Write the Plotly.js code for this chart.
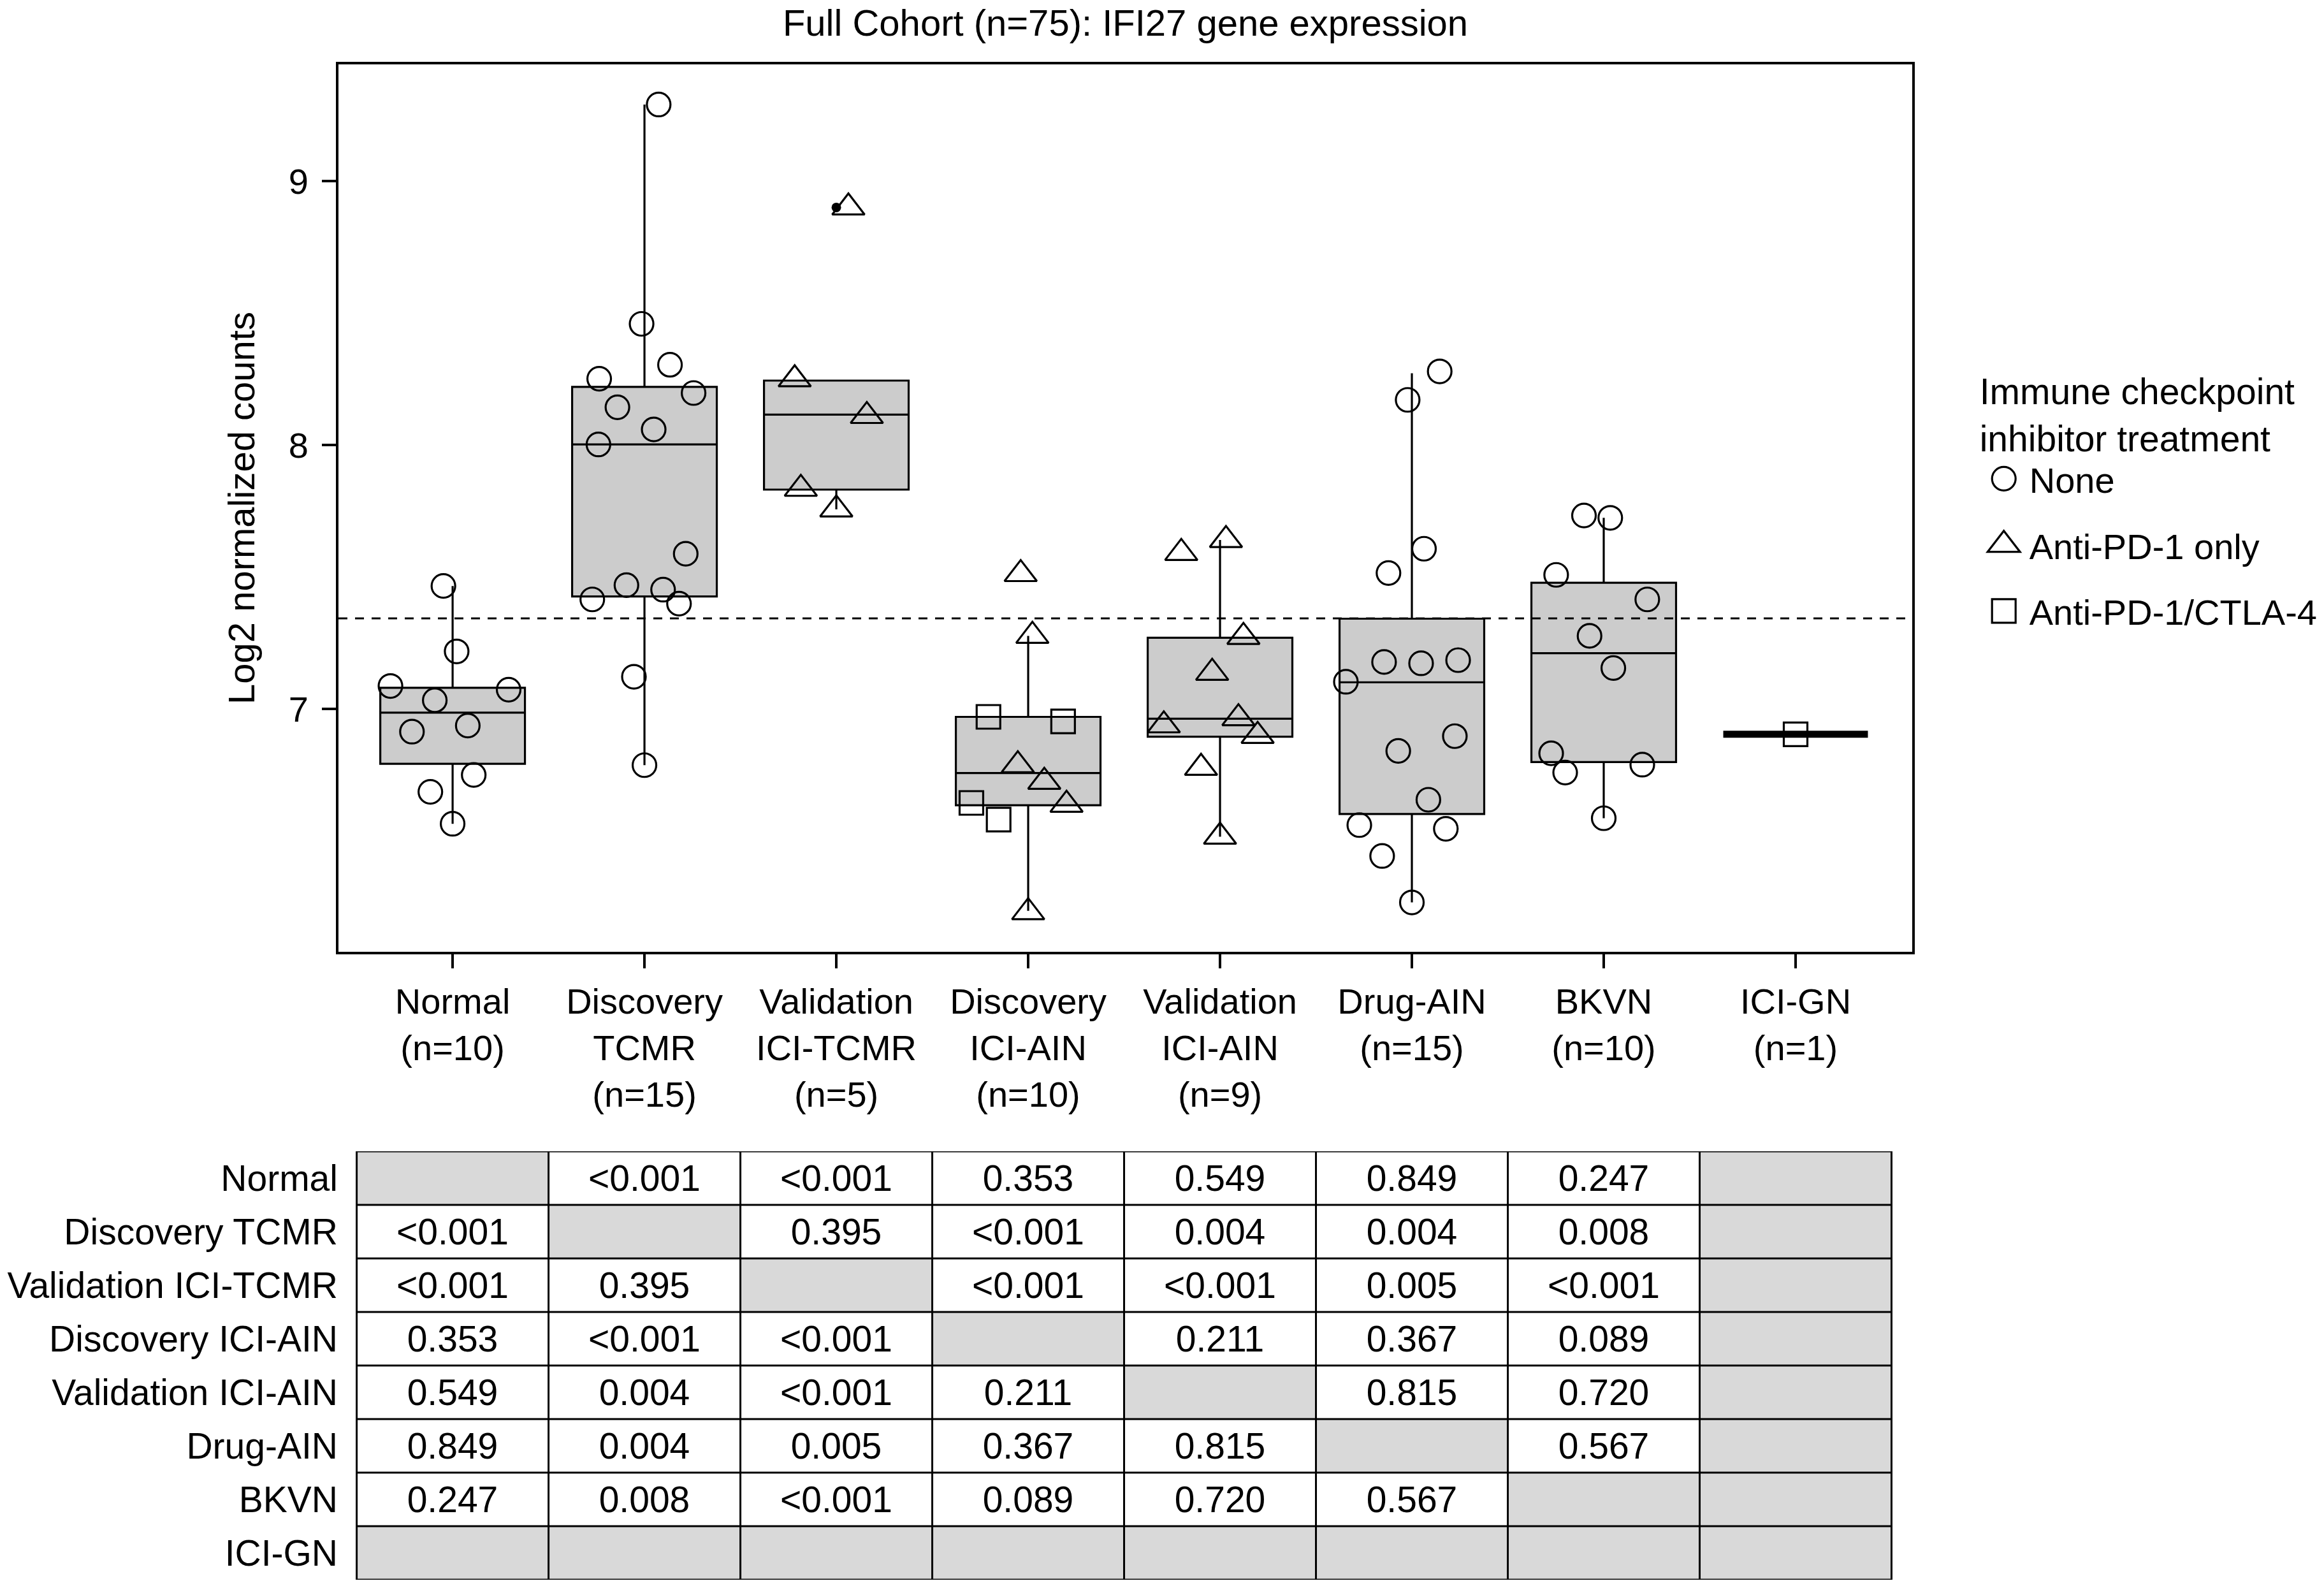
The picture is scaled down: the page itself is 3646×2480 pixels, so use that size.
<!DOCTYPE html>
<html>
<head>
<meta charset="utf-8">
<script src="https://cdn.plot.ly/plotly-3.0.1.min.js"></script>
<style>
  html, body { margin: 0; padding: 0; background: #ffffff; }
  #chart { width: 3646px; height: 2480px; }
</style>
</head>
<body>
<div id="chart"></div>
<script>
// ---------------- DATA ----------------
const categories = ['Normal', 'Discovery TCMR', 'Validation ICI-TCMR', 'Discovery ICI-AIN',
                    'Validation ICI-AIN', 'Drug-AIN', 'BKVN', 'ICI-GN'];
const tickLabels = ['Normal<br>(n=10)', 'Discovery<br>TCMR<br>(n=15)', 'Validation<br>ICI-TCMR<br>(n=5)',
                    'Discovery<br>ICI-AIN<br>(n=10)', 'Validation<br>ICI-AIN<br>(n=9)', 'Drug-AIN<br>(n=15)',
                    'BKVN<br>(n=10)', 'ICI-GN<br>(n=1)'];

// box statistics per category
const boxQ1     = [6.792, 7.426, 7.831, 6.635, 6.895, 6.602, 6.799, 6.904];
const boxMedian = [6.986, 8.002, 8.115, 6.757, 6.963, 7.101, 7.211, 6.904];
const boxQ3     = [7.080, 8.220, 8.244, 6.970, 7.270, 7.342, 7.478, 6.904];
const boxLow    = [6.565, 6.787, 7.756, 6.235, 6.516, 6.267, 6.586, 6.904];
const boxHigh   = [7.466, 9.290, 8.244, 7.277, 7.640, 8.272, 7.724, 6.904];

// outlier (filled dot)
const outlierCat = [2];
const outlierVal = [8.900];

// reference threshold (dashed line)
const thresholdValue = 7.343;

// individual samples: category index, value, horizontal jitter, treatment
const treatments = ['None', 'Anti-PD-1 only', 'Anti-PD-1/CTLA-4'];
const ptCat = [
  0,0,0,0,0,0,0,0,0,0,
  1,1,1,1,1,1,1,1,1,1,1,1,1,1,1,
  2,2,2,2,2,
  3,3,3,3,3,3,3,3,3,3,
  4,4,4,4,4,4,4,4,4,
  5,5,5,5,5,5,5,5,5,5,5,5,5,5,5,
  6,6,6,6,6,6,6,6,6,6,
  7
];
const ptVal = [
  7.466, 7.218, 7.087, 7.073, 7.033, 6.937, 6.914, 6.750, 6.686, 6.565,
  9.290, 8.459, 8.304, 8.251, 8.197, 8.143, 8.059, 8.002, 7.588, 7.469, 7.452, 7.415, 7.399, 7.122, 6.787,
  8.249, 8.110, 7.834, 7.756, 8.900,
  7.511, 7.277, 6.787, 6.724, 6.637, 6.230, 6.970, 6.953, 6.644, 6.581,
  7.591, 7.640, 7.273, 7.137, 6.938, 6.965, 6.898, 6.777, 6.516,
  8.279, 8.171, 7.607, 7.515, 7.178, 7.173, 7.185, 7.103, 6.897, 6.841, 6.656, 6.560, 6.546, 6.443, 6.267,
  7.733, 7.724, 7.508, 7.415, 7.277, 7.155, 6.832, 6.759, 6.789, 6.586,
  6.904
];
const ptJit = [
  -0.048, 0.021, -0.324, 0.292, -0.093, 0.079, -0.212, 0.110, -0.116, 0.000,
  0.074, -0.015, 0.133, -0.236, 0.256, -0.141, 0.048, -0.240, 0.215, -0.094, 0.097, -0.272, 0.180, -0.055, 0.000,
  -0.217, 0.159, -0.185, 0.000, 0.063,
  -0.039, 0.022, -0.054, 0.084, 0.200, 0.000, -0.207, 0.182, -0.296, -0.154,
  -0.202, 0.031, 0.122, -0.041, -0.293, 0.096, 0.196, -0.099, 0.000,
  0.145, -0.022, 0.063, -0.122, -0.145, 0.048, 0.241, -0.344, 0.224, -0.071, 0.086, -0.274, 0.177, -0.155, 0.000,
  -0.103, 0.034, -0.248, 0.227, -0.074, 0.050, -0.274, -0.201, 0.201, 0.000,
  0.000
];
const ptTrt = [
  0,0,0,0,0,0,0,0,0,0,
  0,0,0,0,0,0,0,0,0,0,0,0,0,0,0,
  1,1,1,1,1,
  1,1,1,1,1,1,2,2,2,2,
  1,1,1,1,1,1,1,1,1,
  0,0,0,0,0,0,0,0,0,0,0,0,0,0,0,
  0,0,0,0,0,0,0,0,0,0,
  2
];

// pairwise p-values table (row = category, column = category); '' = shaded cell
const pRowNormal      = ['', '<0.001', '<0.001', '0.353', '0.549', '0.849', '0.247', ''];
const pRowDiscTCMR    = ['<0.001', '', '0.395', '<0.001', '0.004', '0.004', '0.008', ''];
const pRowValTCMR     = ['<0.001', '0.395', '', '<0.001', '<0.001', '0.005', '<0.001', ''];
const pRowDiscAIN     = ['0.353', '<0.001', '<0.001', '', '0.211', '0.367', '0.089', ''];
const pRowValAIN      = ['0.549', '0.004', '<0.001', '0.211', '', '0.815', '0.720', ''];
const pRowDrugAIN     = ['0.849', '0.004', '0.005', '0.367', '0.815', '', '0.567', ''];
const pRowBKVN        = ['0.247', '0.008', '<0.001', '0.089', '0.720', '0.567', '', ''];
const pRowICIGN       = ['', '', '', '', '', '', '', ''];

// ---------------- BUILD ----------------
const FONT = 'Liberation Sans, Arial, Helvetica, sans-serif';
const idx = categories.map((c, i) => i);
const pTable = [pRowNormal, pRowDiscTCMR, pRowValTCMR, pRowDiscAIN, pRowValAIN, pRowDrugAIN, pRowBKVN, pRowICIGN];
const zShade = pTable.map(r => r.map(v => v === '' ? 1 : 0));

const LW = 3.2;
const traces = [];
const nBox = categories.length - 1; // last one (n=1) drawn as a thick line
traces.push({
  type: 'box', x: idx.slice(0, nBox),
  q1: boxQ1.slice(0, nBox), median: boxMedian.slice(0, nBox), q3: boxQ3.slice(0, nBox),
  lowerfence: boxLow.slice(0, nBox), upperfence: boxHigh.slice(0, nBox),
  width: 0.754, whiskerwidth: 0, boxpoints: false,
  fillcolor: '#cccccc', line: { color: '#000000', width: LW },
  showlegend: false, hoverinfo: 'skip', xaxis: 'x', yaxis: 'y'
});
traces.push({
  type: 'box', x: idx.slice(nBox),
  q1: boxQ1.slice(nBox), median: boxMedian.slice(nBox), q3: boxQ3.slice(nBox),
  lowerfence: boxLow.slice(nBox), upperfence: boxHigh.slice(nBox),
  width: 0.754, whiskerwidth: 0, boxpoints: false,
  fillcolor: '#cccccc', line: { color: '#000000', width: 11 },
  showlegend: false, hoverinfo: 'skip', xaxis: 'x', yaxis: 'y'
});

const symbols = ['circle-open', 'triangle-up-open', 'square-open'];
const sizes = [37, 44, 37];
treatments.forEach((t, k) => {
  const xs = [], ys = [];
  ptCat.forEach((c, i) => {
    if (ptTrt[i] === k) { xs.push(c + ptJit[i]); ys.push(ptVal[i]); }
  });
  traces.push({
    type: 'scatter', mode: 'markers', name: t, legendgroup: 'g' + k,
    x: xs, y: ys,
    marker: { symbol: symbols[k], color: '#000000', size: sizes[k], line: { color: '#000000', width: LW } },
    hoverinfo: 'skip', cliponaxis: false
  });
});
traces.push({
  type: 'scatter', mode: 'markers',
  x: outlierCat, y: outlierVal,
  marker: { symbol: 'circle', color: '#000000', size: 15 },
  showlegend: false, hoverinfo: 'skip', cliponaxis: false
});

traces.push({
  type: 'heatmap', xaxis: 'x2', yaxis: 'y2',
  x: idx, y: idx, z: zShade, text: pTable, texttemplate: '%{text}',
  textfont: { family: FONT, size: 57, color: '#000000' },
  colorscale: [[0, '#ffffff'], [1, '#d9d9d9']], zmin: 0, zmax: 1,
  showscale: false, hoverinfo: 'skip', showlegend: false
});

const shapes = [{
  type: 'line', xref: 'x domain', yref: 'y', x0: 0, x1: 1, y0: thresholdValue, y1: thresholdValue,
  line: { color: '#000000', width: 3, dash: '14px,12px' }
}];
for (let k = 0; k <= categories.length; k++) {
  shapes.push({ type: 'line', xref: 'x2', yref: 'y2', x0: k - 0.5, x1: k - 0.5, y0: -0.5, y1: categories.length - 0.5,
                line: { color: '#000000', width: 3 } });
  shapes.push({ type: 'line', xref: 'x2', yref: 'y2', y0: k - 0.5, y1: k - 0.5, x0: -0.5, x1: categories.length - 0.5,
                line: { color: '#000000', width: 3 } });
}

const xRange = [-0.595, 7.608];
const layout = {
  width: 3646, height: 2480,
  paper_bgcolor: '#ffffff', plot_bgcolor: '#ffffff',
  font: { family: FONT, size: 58, color: '#000000' },
  margin: { l: 531, r: 646, t: 101, b: 2, autoexpand: false },
  title: { text: 'Full Cohort (n=75): IFI27 gene expression', x: 0.5, xref: 'paper', xanchor: 'center',
           y: 1 - 36 / 2480, yanchor: 'middle', font: { size: 58 } },
  showlegend: true,
  legend: {
    x: 1.0420, xanchor: 'left', y: 0.807, yanchor: 'top', itemwidth: 70,
    title: { text: 'Immune checkpoint<br>inhibitor treatment', font: { size: 57 } },
    font: { size: 56 }, traceorder: 'grouped', tracegroupgap: 28, borderwidth: 0, bgcolor: 'rgba(0,0,0,0)'
  },
  xaxis: {
    domain: [0, 1], range: xRange, tickmode: 'array', tickvals: idx, ticktext: tickLabels,
    ticks: 'outside', ticklen: 22, tickwidth: 4, tickcolor: '#000000',
    showline: true, mirror: true, linewidth: 4, linecolor: '#000000',
    showgrid: false, zeroline: false, tickfont: { size: 56 }, ticklabelstandoff: 4, fixedrange: true
  },
  yaxis: {
    domain: [0.41439, 1], range: [6.080, 9.442], tickmode: 'array', tickvals: [7, 8, 9],
    ticks: 'outside', ticklen: 22, tickwidth: 4, tickcolor: '#000000',
    showline: true, mirror: true, linewidth: 4, linecolor: '#000000',
    showgrid: false, zeroline: false, tickfont: { size: 56 }, ticklabelstandoff: 10,
    title: { text: 'Log2 normalized counts', font: { size: 58 }, standoff: 35 }, fixedrange: true
  },
  xaxis2: {
    domain: [0, 1], range: xRange, anchor: 'y2', visible: false, fixedrange: true
  },
  yaxis2: {
    domain: [0, 0.28271], range: [categories.length - 0.5, -0.5], anchor: 'x2',
    tickmode: 'array', tickvals: idx, ticktext: categories, ticks: '',
    showline: false, showgrid: false, zeroline: false, tickfont: { size: 57 }, fixedrange: true
  },
  shapes: shapes
};

// legend symbols are capped in size by the library; enlarge them to match the plotted markers
const legendScale = [37 / 16, 44 / 16, 37 / 16];
Plotly.newPlot('chart', traces, layout, { displayModeBar: false, staticPlot: true }).then(gd => {
  gd.querySelectorAll('.legend .traces').forEach((tr, i) => {
    const s = legendScale[i] || 1;
    tr.querySelectorAll('.legendpoints path.scatterpts').forEach(p => {
      const t = p.getAttribute('transform') || '';
      p.setAttribute('transform', t + ' scale(' + s + ')');
      p.style.strokeWidth = (LW / s) + 'px';
    });
  });
});
</script>
</body>
</html>
